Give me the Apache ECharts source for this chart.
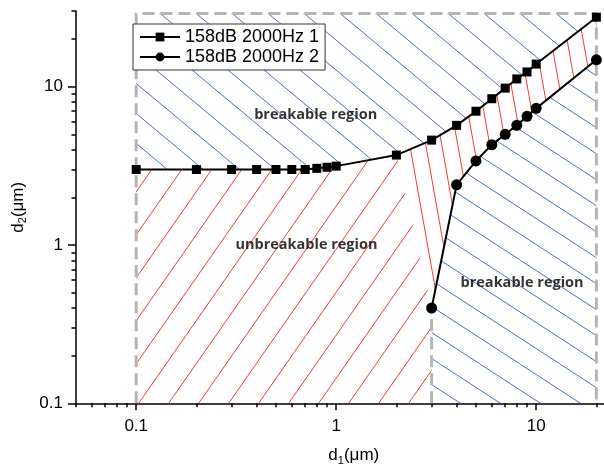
<!DOCTYPE html>
<html><head><meta charset="utf-8">
<script src="https://cdn.jsdelivr.net/npm/echarts@6/dist/echarts.min.js"></script>
<style>html,body{margin:0;padding:0;background:#fff}#c{width:604px;height:468px}</style>
</head><body><div id="c"></div>
<script>
// ---- data ----
const seriesNames = ['158dB 2000Hz 1', '158dB 2000Hz 2'];
const d1Curve1 = [0.1, 0.2, 0.3, 0.4, 0.5, 0.6, 0.7, 0.8, 0.9, 1, 2, 3, 4, 5, 6, 7, 8, 9, 10, 20];
const d2Curve1 = [3.0, 3.0, 3.0, 3.0, 3.0, 3.0, 3.0, 3.05, 3.1, 3.15, 3.7, 4.6, 5.7, 7.0, 8.4, 9.8, 11.2, 12.4, 13.9, 27.5];
const d1Curve2 = [3, 4, 5, 6, 7, 8, 9, 10, 20];
const d2Curve2 = [0.4, 2.4, 3.4, 4.3, 5.0, 5.7, 6.5, 7.3, 14.8];
const majorTicks = [0.1, 1, 10];
const xMinorTicks = [0.05, 0.06, 0.07, 0.08, 0.09, 0.2, 0.3, 0.4, 0.5, 0.6, 0.7, 0.8, 0.9, 2, 3, 4, 5, 6, 7, 8, 9, 20, 30];
const yMinorTicks = [0.2, 0.3, 0.4, 0.5, 0.6, 0.7, 0.8, 0.9, 2, 3, 4, 5, 6, 7, 8, 9, 20, 30];
const xRange = [0.05, 30];
const yRange = [0.1, 30];
const boxX = [0.1, 20];      // dashed boundary, d1
const boxY = [0.1, 29];      // dashed boundary, d2
const regionTexts = ['breakable region', 'unbreakable region', 'breakable region'];
const regionTextX = [0.79, 0.71, 8.5];
const regionTextY = [6.6, 1.0, 0.575];

// ---- derived polygons ----
const c1 = d1Curve1.map((x, i) => [x, d2Curve1[i]]);
const c2 = d1Curve2.map((x, i) => [x, d2Curve2[i]]);
const iSplit = d1Curve1.indexOf(2);
const polyBlueTop = [[boxX[0], boxY[1]], [boxX[1], boxY[1]]].concat(c1.slice().reverse());
const polyRedA = [[boxX[0], boxY[0]]].concat(c1.slice(0, iSplit + 1), [c2[0], [d1Curve2[0], boxY[0]]]);
const polyRedB = c1.slice(iSplit).concat(c2.slice().reverse());
const polyBlueBottom = [[d1Curve2[0], boxY[0]]].concat(c2, [[boxX[1], boxY[0]]]);
const dashedBox = [[boxX[0], boxY[0]], [boxX[0], boxY[1]], [boxX[1], boxY[1]], [boxX[1], boxY[0]]];
const dashedMid = [[d1Curve2[0], boxY[0]], c2[0]];

function hatch(color, w, h, dir) {
  const c = document.createElement('canvas');
  c.width = w; c.height = h;
  const g = c.getContext('2d');
  g.strokeStyle = color; g.lineWidth = 1;
  for (let k = -1; k <= 1; k++) {
    g.beginPath();
    if (dir > 0) { g.moveTo(k * w, h); g.lineTo(k * w + w, 0); }
    else { g.moveTo(k * w, 0); g.lineTo(k * w + w, h); }
    g.stroke();
  }
  return { image: c, repeat: 'repeat' };
}
const blue = '#4a72c0', red = '#f03a3a';
function region(poly, fill) {
  return {
    type: 'custom', z: 1, silent: true, data: [0],
    renderItem: function (params, api) {
      return { type: 'polygon', shape: { points: poly.map(p => api.coord(p)) }, style: { fill: fill, stroke: null } };
    }
  };
}

const chart = echarts.init(document.getElementById('c'), null, { renderer: 'canvas' });
const axisFont = { fontFamily: 'Liberation Sans, Arial, sans-serif', fontSize: 17, color: '#000' };
function xAx(ticks, len, showLine, showLabel) {
  return {
    type: 'log', logBase: 10, min: xRange[0], max: xRange[1], gridIndex: 0, position: 'bottom',
    axisLine: { show: showLine, lineStyle: { color: '#000', width: 1.5 } },
    axisTick: { show: true, inside: false, length: len, customValues: ticks, lineStyle: { color: '#000', width: 1.5 } },
    axisLabel: Object.assign({ show: showLabel, margin: 15, customValues: majorTicks, formatter: v => String(v) }, axisFont),
    splitLine: { show: false }, minorTick: { show: false },
    name: showLabel ? '{a|d}{s|1}{a|(μm)}' : '', nameLocation: 'middle', nameGap: 42,
    nameTextStyle: { rich: { a: axisFont, s: { fontFamily: axisFont.fontFamily, fontSize: 11, color: '#000', padding: [10, 0, 0, 0] } } }
  };
}
function yAx(ticks, len, showLine, showLabel) {
  return {
    type: 'log', logBase: 10, min: yRange[0], max: yRange[1], gridIndex: 0, position: 'left',
    axisLine: { show: showLine, lineStyle: { color: '#000', width: 1.5 } },
    axisTick: { show: true, inside: false, length: len, customValues: ticks, lineStyle: { color: '#000', width: 1.5 } },
    axisLabel: Object.assign({ show: showLabel, margin: 13, customValues: majorTicks, formatter: v => String(v) }, axisFont),
    splitLine: { show: false }, minorTick: { show: false },
    name: showLabel ? '{a|d}{s|2}{a|(μm)}' : '', nameLocation: 'middle', nameGap: 38,
    nameTextStyle: { rich: { a: axisFont, s: { fontFamily: axisFont.fontFamily, fontSize: 11, color: '#000', padding: [10, 0, 0, 0] } } }
  };
}

chart.setOption({
  animation: false,
  backgroundColor: '#fff',
  grid: { left: 76, top: 11.2, width: 555.6, height: 392.1, containLabel: false, outerBoundsMode: 'none' },
  xAxis: [xAx(xMinorTicks, 4, true, true), xAx(majorTicks, 7, false, false)],
  yAxis: [yAx(yMinorTicks, 4.5, true, true), yAx(majorTicks, 8, false, false)],
  legend: {
    data: seriesNames, orient: 'vertical', left: 133, top: 24,
    backgroundColor: '#fff', borderColor: '#333', borderWidth: 1, borderRadius: 0,
    padding: [4, 6, 4, 6], itemGap: 2, itemWidth: 40, itemHeight: 11,
    textStyle: { fontFamily: 'Liberation Sans, Arial, sans-serif', fontSize: 18, color: '#000' }
  },
  series: [
    region(polyBlueTop, hatch(blue, 36, 30, -1)),
    region(polyRedA, hatch(red, 30, 43, 1)),
    region(polyRedB, hatch(red, 16, 90, -1)),
    region(polyBlueBottom, hatch(blue, 40, 26, -1)),
    { type: 'line', z: 2, silent: true, symbol: 'none', data: dashedBox, lineStyle: { color: '#b5b5b5', width: 3, type: [12, 6] } },
    { type: 'line', z: 2, silent: true, symbol: 'none', data: dashedMid, lineStyle: { color: '#b5b5b5', width: 3, type: [12, 6] } },
    { name: seriesNames[0], type: 'line', z: 3, data: c1, symbol: 'rect', symbolSize: 9,
      itemStyle: { color: '#000' }, lineStyle: { color: '#000', width: 2 } },
    { name: seriesNames[1], type: 'line', z: 3, data: c2, symbol: 'circle', symbolSize: 11,
      itemStyle: { color: '#000' }, lineStyle: { color: '#000', width: 2 } },
    { type: 'scatter', z: 4, silent: true, symbolSize: 0,
      data: regionTexts.map((t, i) => ({ value: [regionTextX[i], regionTextY[i]], name: t })),
      label: { show: true, position: 'inside', formatter: p => p.name,
        fontFamily: 'Open Sans, Lato, sans-serif', fontWeight: 'bold', fontSize: 14.5, color: '#000' } }
  ]
});
</script></body></html>
